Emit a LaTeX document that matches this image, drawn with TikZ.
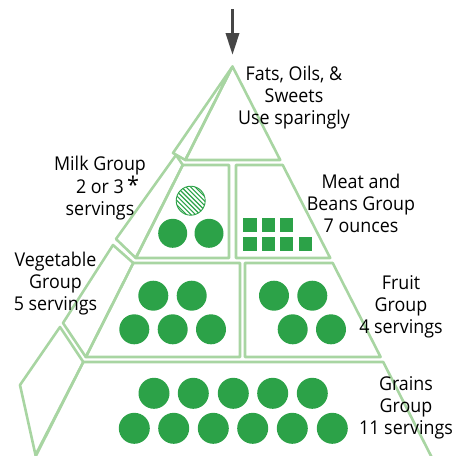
\documentclass[tikz,border=0pt]{standalone}
\usepackage{fontspec}
\setmainfont[FakeStretch=0.94]{Open Sans}
\usetikzlibrary{arrows.meta}
\definecolor{pyr}{RGB}{168,213,162}
\definecolor{dot}{RGB}{44,162,72}
\definecolor{arr}{RGB}{70,70,70}
\begin{document}
\begin{tikzpicture}[x=1pt,y=-1pt,
  face/.style={draw=pyr, line width=2.6pt, line join=round},
  serv/.style={fill=dot, draw=none, circle, minimum size=30pt, inner sep=0pt},
  oz/.style={fill=dot, draw=none, rectangle, minimum size=13.3pt, inner sep=0pt},
  lbl/.style={font=\fontsize{19}{22}\selectfont, align=center, text=black, inner sep=0pt}]
\useasboundingbox (0,0) rectangle (456,456);
\begin{scope}
\clip (0,0) rectangle (456,456);
% level 1
\draw[face] (232.5,66.5) -- (185.3,160) -- (280.2,160) -- cycle;
\draw[face] (232.5,66.5) -- (173,153) -- (185.3,160) -- cycle;
% level 2
\draw[face] (182.8,165) -- (229,165) -- (229,258) -- (135.8,258) -- cycle;
\draw[face] (236,165) -- (282.7,165) -- (330.2,258) -- (236,258) -- cycle;
\draw[face] (176,155) -- (182.8,165) -- (135.8,258) -- (116,239) -- cycle;
% level 3
\draw[face] (133.3,263) -- (240,263) -- (240,357) -- (85.8,357) -- cycle;
\draw[face] (245,263) -- (332.7,263) -- (380.6,357) -- (245,357) -- cycle;
\draw[face] (113,245) -- (133.3,263) -- (85.8,357) -- (63,323) -- cycle;
% level 4
\draw[face] (83.3,362) -- (383.2,362) -- (443.3,480) -- (23.7,480) -- cycle;
\draw[face] (60,327) -- (83.3,362) -- (35.5,455) -- (20,385) -- cycle;
\end{scope}
% arrow
\coordinate (atop) at (232.5,9);
\coordinate (atip) at (232.5,55);
\draw[arr, line width=3.5pt, -{Triangle[length=22pt,width=13pt]}] (atop) -- (atip);
% milk
\node[circle, draw=dot, line width=0.9pt, minimum size=29pt, inner sep=0pt] (mh) at (190.7,200.7) {};
\begin{scope}
\clip (190.7,200.7) circle (14.5);
\foreach \k in {-6,...,6}{\draw[dot, line width=1.1pt] ({190.7+2.26*\k-20},{200.7-2.26*\k-20}) -- ++(40,40);}
\end{scope}
\node[serv, minimum size=29pt] (m1) at (172.7,233.3) {};
\node[serv, minimum size=29pt] (m2) at (209,233.3) {};
% meat
\foreach \i/\x in {1/250,2/268.3,3/286.7}{\node[oz] (ma\i) at (\x,225) {};}
\foreach \i/\x in {1/250,2/268.3,3/286.7,4/305.7}{\node[oz] (mb\i) at (\x,244) {};}
% vegetable
\node[serv] (v1) at (153.3,295.7) {};
\node[serv] (v2) at (191.7,295.7) {};
\node[serv] (v3) at (134.3,329.3) {};
\node[serv] (v4) at (172.7,329.3) {};
\node[serv] (v5) at (211,329.3) {};
% fruit
\node[serv] (f1) at (274,295.7) {};
\node[serv] (f2) at (312.3,295.7) {};
\node[serv] (f3) at (292.7,329.3) {};
\node[serv] (f4) at (331,329.3) {};
% grains
\foreach \i/\x in {1/154,2/193.3,3/233.3,4/272.7,5/312.3}{\node[serv, minimum size=31pt] (ga\i) at (\x,393.3) {};}
\foreach \i/\x in {1/134.3,2/173.7,3/213.3,4/252.7,5/292.3,6/332.3}{\node[serv, minimum size=31pt] (gb\i) at (\x,428.3) {};}
% labels
\node[lbl] (tfats) at (294,98) {Fats, Oils, \&\\Sweets\\Use sparingly};
\node[lbl] (tmilk) at (100,188) {Milk Group\\2 or 3\rlap{\,{\fontsize{23}{22}\selectfont *}}\\servings};
\node[lbl] (tmeat) at (361,203) {Meat and\\Beans Group\\7 ounces};
\node[lbl] (tveg) at (55.5,284) {Vegetable\\Group\\5 servings};
\node[lbl] (tfruit) at (401,307) {Fruit\\Group\\4 servings};
\node[lbl] (tgrain) at (406,408) {Grains\\Group\\11 servings};
\end{tikzpicture}
\end{document}
